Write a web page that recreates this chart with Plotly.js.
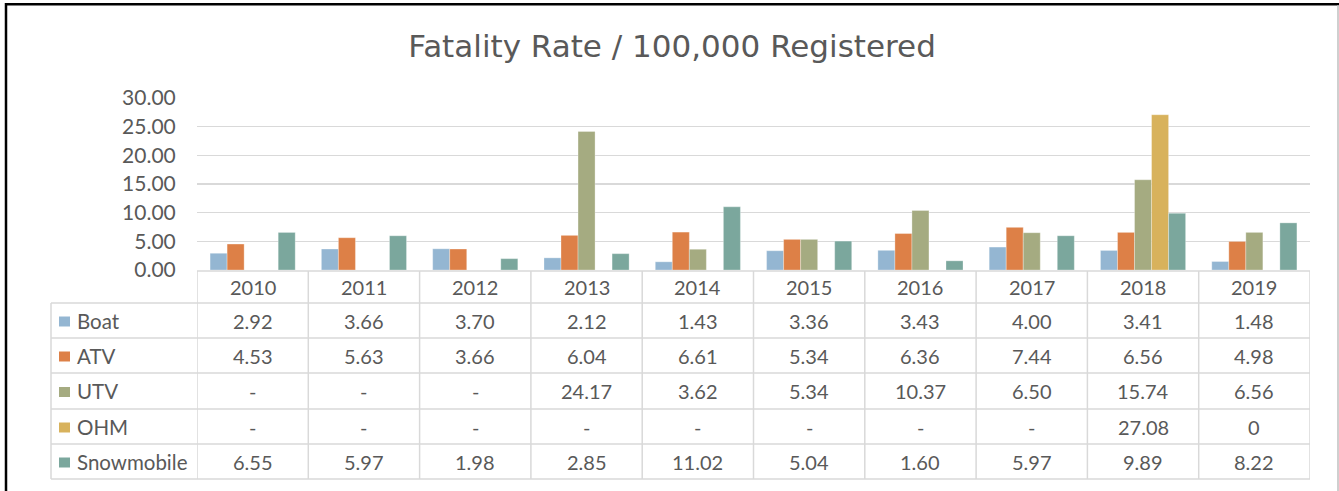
<!DOCTYPE html>
<html>
<head>
<meta charset="utf-8">
<script src="https://cdn.plot.ly/plotly-3.0.1.min.js"></script>
<style>html,body{margin:0;padding:0;background:#fff;}#chart{width:1339px;height:491px;}</style>
</head>
<body>
<div id="chart"></div>
<script>
const years = ['2010','2011','2012','2013','2014','2015','2016','2017','2018','2019'];
const seriesNames = ['Boat','ATV','UTV','OHM','Snowmobile'];
const boat = [2.92,3.66,3.70,2.12,1.43,3.36,3.43,4.00,3.41,1.48];
const atv = [4.53,5.63,3.66,6.04,6.61,5.34,6.36,7.44,6.56,4.98];
const utv = [null,null,null,24.17,3.62,5.34,10.37,6.50,15.74,6.56];
const ohm = [null,null,null,null,null,null,null,null,27.08,0];
const snowmobile = [6.55,5.97,1.98,2.85,11.02,5.04,1.60,5.97,9.89,8.22];
const seriesValues = [boat, atv, utv, ohm, snowmobile];
const colors = ['#94B6D2','#DD8047','#A5AB81','#D8B25C','#7BA79D'];

const W = 1339, H = 491;
const L = 197, R = 1310, T = 98, B = 270;
const px = x => (x - L) / (R - L);
const py = y => (B - y) / (B - T);
const FONT = 'Lato, sans-serif';
const TXT = '#595959';
const GRID = '#D9D9D9';

const traces = seriesNames.map((n, i) => ({
  type: 'bar', name: n, x: years, y: seriesValues[i],
  marker: {color: colors[i], line: {color: 'rgba(255,255,255,0.6)', width: 0.5}},
  hoverinfo: 'y+name'
}));

const shapes = [];
const annotations = [];
const line = (x0, y0, x1, y1, xref, color, w) => shapes.push({
  type: 'line', xref: xref, yref: 'paper', x0: x0, x1: x1, y0: y0, y1: y1,
  line: {color: color, width: w}
});

// table geometry (pixels)
const headerTop = 271, rowLines = [303, 338, 373, 409, 444, 479];
const tableLeft = 51;
line(-0.5, py(headerTop), 9.5, py(headerTop), 'x', GRID, 1.5);
rowLines.forEach(y => line(px(tableLeft), py(y), 1, py(y), 'paper', GRID, 1.5));
for (let i = 0; i <= years.length; i++) {
  line(i - 0.5, py(headerTop), i - 0.5, py(rowLines[rowLines.length - 1]), 'x', GRID, 1.5);
}
line(px(tableLeft), py(rowLines[0]), px(tableLeft), py(rowLines[rowLines.length - 1]), 'paper', GRID, 1.5);

years.forEach((yr, i) => annotations.push({
  x: i, xref: 'x', y: py((headerTop + rowLines[0]) / 2), yref: 'paper',
  text: yr, showarrow: false, xanchor: 'center', yanchor: 'middle',
  font: {family: FONT, size: 20, color: TXT}
}));

const fmt = v => v === null ? '-' : (v === 0 ? '0' : v.toFixed(2));
seriesNames.forEach((n, r) => {
  const yc = (rowLines[r] + rowLines[r + 1]) / 2;
  shapes.push({type: 'rect', xref: 'paper', yref: 'paper',
    x0: px(59), x1: px(70), y0: py(yc - 4), y1: py(yc + 6),
    fillcolor: colors[r], line: {width: 0}});
  annotations.push({x: px(75), xref: 'paper', y: py(yc), yref: 'paper',
    text: n, showarrow: false, xanchor: 'left', yanchor: 'middle',
    font: {family: FONT, size: 20.5, color: TXT}});
  seriesValues[r].forEach((v, i) => annotations.push({
    x: i, xref: 'x', y: py(yc), yref: 'paper', text: fmt(v), showarrow: false,
    xanchor: 'center', yanchor: 'middle', font: {family: FONT, size: 20, color: TXT}
  }));
});

// outer frame
line(px(5), py(4.3), px(1339), py(4.3), 'paper', '#000', 2.5);
line(px(6), py(3), px(6), py(491), 'paper', '#000', 2.5);
line(px(1338), py(5), px(1338), py(491), 'paper', '#BFBFBF', 1.5);

const layout = {
  width: W, height: H,
  margin: {l: L, r: W - R, t: T, b: H - B, pad: 0},
  paper_bgcolor: '#fff', plot_bgcolor: '#fff',
  title: {text: 'Fatality Rate / 100,000 Registered', x: 672 / W, xanchor: 'center',
    y: 1 - 46 / H, yanchor: 'middle',
    font: {family: '"DejaVu Sans", sans-serif', size: 31, color: TXT}},
  showlegend: false,
  barmode: 'group', bargap: 0.235, bargroupgap: 0,
  xaxis: {type: 'category', range: [-0.5, 9.5], showticklabels: false, showgrid: false,
    zeroline: false, showline: false, ticks: '', fixedrange: true},
  yaxis: {range: [0, 30], dtick: 5, tickformat: '.2f', showgrid: true, gridcolor: GRID,
    gridwidth: 1.5, zeroline: false, showline: false, ticks: 'outside',
    tickcolor: 'rgba(0,0,0,0)', ticklen: 16, fixedrange: true,
    tickfont: {family: FONT, size: 21, color: TXT}},
  shapes: shapes, annotations: annotations
};

Plotly.newPlot('chart', traces, layout, {displayModeBar: false, staticPlot: true});
</script>
</body>
</html>
